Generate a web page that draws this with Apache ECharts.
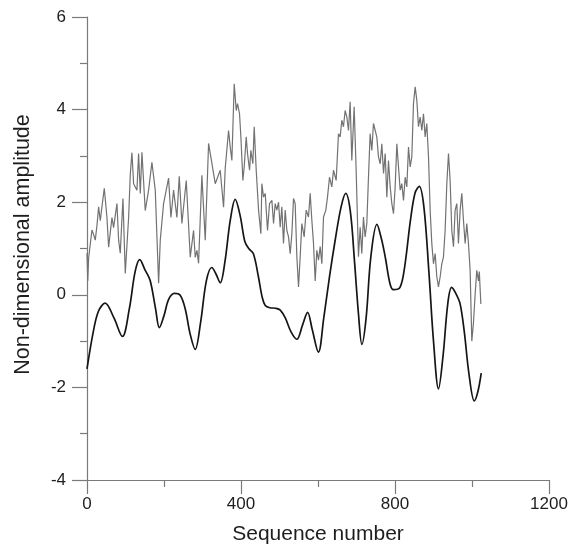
<!DOCTYPE html>
<html>
<head>
<meta charset="utf-8">
<script src="https://cdn.jsdelivr.net/npm/echarts@6/dist/echarts.min.js"></script>
<style>
html,body{margin:0;padding:0;background:#fff;}
#chart{width:581px;height:547px;}
</style>
</head>
<body>
<div id="chart"></div>
<script>
// X axis ticks
const xTicks = [0, 400, 800, 1200];
const yTicks = [-4, -2, 0, 2, 4, 6];

// Noisy (gray) record: sequence numbers and amplitudes
const seqGray = [0,2,4.2,8.6,12.9,17.2,21.5,25.9,30.2,34.5,38.8,44.9,51.8,56.2,64.8,69.1,77.8,82.1,86.4,93.4,99.4,108.1,112.4,116.7,121.1,129.7,134.0,138.4,142.7,151.3,160.0,168.6,177.3,186.0,190.3,198.9,211.9,218.0,224.9,233.5,239.6,246.5,257.8,268.2,276.8,281.1,285.5,289.8,298.4,307.1,315.8,324.4,333.1,346.0,354.7,359.0,367.7,372,376.3,382.4,387.6,391,396.2,399.7,404.9,408.3,413.5,417,422.2,425.6,430.8,434.3,439.5,445.6,451.6,454.2,458.5,462.9,468.9,474.1,480.2,484.5,488.8,493.1,497.5,501.8,506.1,510.4,514.8,519.1,523.4,527.8,532.1,536.4,540.7,545.1,549.4,553.7,558,564.1,569.3,575.3,579.7,584,588.3,592.7,597,601.3,605.6,610,614.3,620.3,624.7,629.9,635.9,640.2,647.2,653.2,657.5,661.9,666.2,670.5,674.9,679.2,683.5,687.8,693.9,699.1,705.1,709.5,713.8,718.1,722.4,726.8,731.1,735.4,739.8,744.1,748.4,752.7,757.1,761.5,765.8,770.2,774.5,778.8,783.1,787.5,791.8,796.1,800.4,804.8,809.1,813.4,817.7,822.1,826.4,830.7,835.1,839.4,843.7,848,852.4,856.7,861,865.3,869.7,874,878.3,882.6,887,891.3,895.6,899.9,904.3,908.6,912.9,917.3,921.6,925.9,930.2,934.6,938.9,943.2,947.5,951.9,956.2,960.5,964.8,969.2,973.5,977.8,982.2,986.5,990.8,995.1,999.5,1003.8,1008.1,1012.4,1016.8,1019,1023];
const ampGray = [0.9,0.3,0.79,0.8,1.4,1.3,1.18,1.5,1.9,1.6,1.9,2.3,1.67,1.03,1.67,1.45,1.97,1.18,0.9,2.08,0.46,1.67,2.6,3.07,2.4,2.26,3.05,2.19,3.08,1.82,2.26,2.86,2.26,0.25,1.18,1.97,2.52,1.67,2.26,1.67,2.56,1.54,2.47,0.81,1.39,0.81,0.96,0.68,2.58,1.18,3.27,2.84,2.4,2.69,1.89,2.73,3.55,3.19,2.9,4.56,3.98,4.13,3.91,3.41,2.47,2.76,3.41,3.05,2.69,3.12,2.83,3.63,2.69,1.83,1.32,2.4,2.11,2.19,1.39,1.97,2.04,1.54,1.97,1.83,2.0,1.46,1.9,1.11,1.83,1.39,1.25,0.89,1.32,2.08,1.97,0.82,0.17,0.82,1.54,1.25,1.83,1.68,2.19,1.61,1.11,0.3,0.96,0.75,1.04,0.67,1.68,1.83,2.11,2.54,2.33,2.69,2.47,3.48,3.41,3.77,3.63,3.98,3.84,3.55,4.17,2.9,4.06,2.69,0.82,1.46,0.89,1.68,1.25,1.54,2.54,3.48,3.12,3.7,3.73,3.41,2.98,2.83,3.26,2.62,3.05,2.11,2.9,2.33,1.97,1.75,2.33,3.26,2.76,2.26,2.4,2.04,2.54,2.33,3.19,2.76,2.98,4.13,4.49,4.2,3.63,3.84,3.55,3.91,3.41,3.7,2.98,1.83,1.11,0.67,0.89,0.39,0.17,0.39,0.67,0.82,1.39,2.4,3.05,2.47,1.39,1.04,1.83,1.97,1.11,1.83,2.19,1.61,1.11,1.54,1.11,0.53,-1.0,-0.6,0.0,0.53,0.3,0.5,-0.2];

// Smooth (black) curve
const seqSmooth = [0,17,30,47,70,92,110,125,137,150,164,178,188,200,212,227,242,255,268,281,295,310,324,335,346,358,372,385,398,410,420,432,445,455,463,475,490,502,515,530,545,560,573,585,601,615,630,645,660,672,684,695,705,714,725,737,753,765,775,787,796,813,825,840,852,863,875,888,900,913,925,937,947,958,969,980,992,1006,1015,1024];
const ampSmooth = [-1.6,-0.77,-0.35,-0.18,-0.5,-0.9,-0.3,0.5,0.76,0.55,0.31,-0.3,-0.71,-0.45,-0.1,0.03,-0.01,-0.3,-0.85,-1.18,-0.6,0.3,0.59,0.45,0.26,0.7,1.6,2.06,1.7,1.15,1.0,0.89,0.4,-0.05,-0.23,-0.28,-0.29,-0.33,-0.5,-0.8,-0.96,-0.65,-0.38,-0.75,-1.24,-0.5,0.4,1.2,1.9,2.19,1.8,0.7,-0.4,-1.07,-0.5,0.8,1.52,1.2,0.8,0.24,0.11,0.16,0.6,1.6,2.2,2.34,1.9,0.5,-1.0,-2.03,-1.3,-0.2,0.16,0.03,-0.19,-0.8,-1.7,-2.29,-2.1,-1.69];

const grayData = seqGray.map((x, i) => [x, ampGray[i]]);
const smoothData = seqSmooth.map((x, i) => [x, ampSmooth[i]]);

const axisColor = '#7a7a7a';
const textColor = '#1e1e1e';
const font = 'Liberation Sans, Arial, sans-serif';

const chart = echarts.init(document.getElementById('chart'), null, {renderer: 'canvas'});
chart.setOption({
  animation: false,
  backgroundColor: '#fff',
  grid: {left: 87, right: 32, top: 17, bottom: 67, containLabel: false, outerBoundsMode: 'none'},
  xAxis: {
    type: 'value',
    min: xTicks[0], max: xTicks[xTicks.length - 1], interval: 400,
    name: 'Sequence number',
    nameLocation: 'middle',
    nameGap: 44,
    nameTextStyle: {fontFamily: font, fontSize: 21, color: textColor},
    axisLine: {show: true, onZero: false, lineStyle: {color: axisColor, width: 1.2}},
    axisTick: {show: true, inside: false, length: 14, lineStyle: {color: axisColor, width: 1.2}},
    minorTick: {show: true, splitNumber: 2, length: 7, lineStyle: {color: axisColor, width: 1.2}},
    axisLabel: {fontFamily: font, fontSize: 17, color: textColor, margin: 16, formatter: v => String(v)},
    splitLine: {show: false}
  },
  yAxis: {
    type: 'value',
    min: yTicks[0], max: yTicks[yTicks.length - 1], interval: 2,
    name: 'Non-dimensional amplitude',
    nameLocation: 'middle',
    nameGap: 53,
    nameTextStyle: {fontFamily: font, fontSize: 21.5, color: textColor, padding: [0, 0, 0, 8]},
    axisLine: {show: true, onZero: false, lineStyle: {color: axisColor, width: 1.2}},
    axisTick: {show: true, inside: false, length: 15, lineStyle: {color: axisColor, width: 1.2}},
    minorTick: {show: true, splitNumber: 2, length: 7, lineStyle: {color: axisColor, width: 1.2}},
    axisLabel: {fontFamily: font, fontSize: 17, color: textColor, margin: 21, formatter: v => String(v)},
    splitLine: {show: false}
  },
  series: [
    {
      type: 'line', data: grayData, showSymbol: false, symbol: 'none',
      lineStyle: {color: '#727272', width: 1.2}, z: 2
    },
    {
      type: 'line', data: smoothData, showSymbol: false, symbol: 'none', smooth: 0.35,
      lineStyle: {color: '#151515', width: 1.7}, z: 3
    }
  ]
});
</script>
</body>
</html>
